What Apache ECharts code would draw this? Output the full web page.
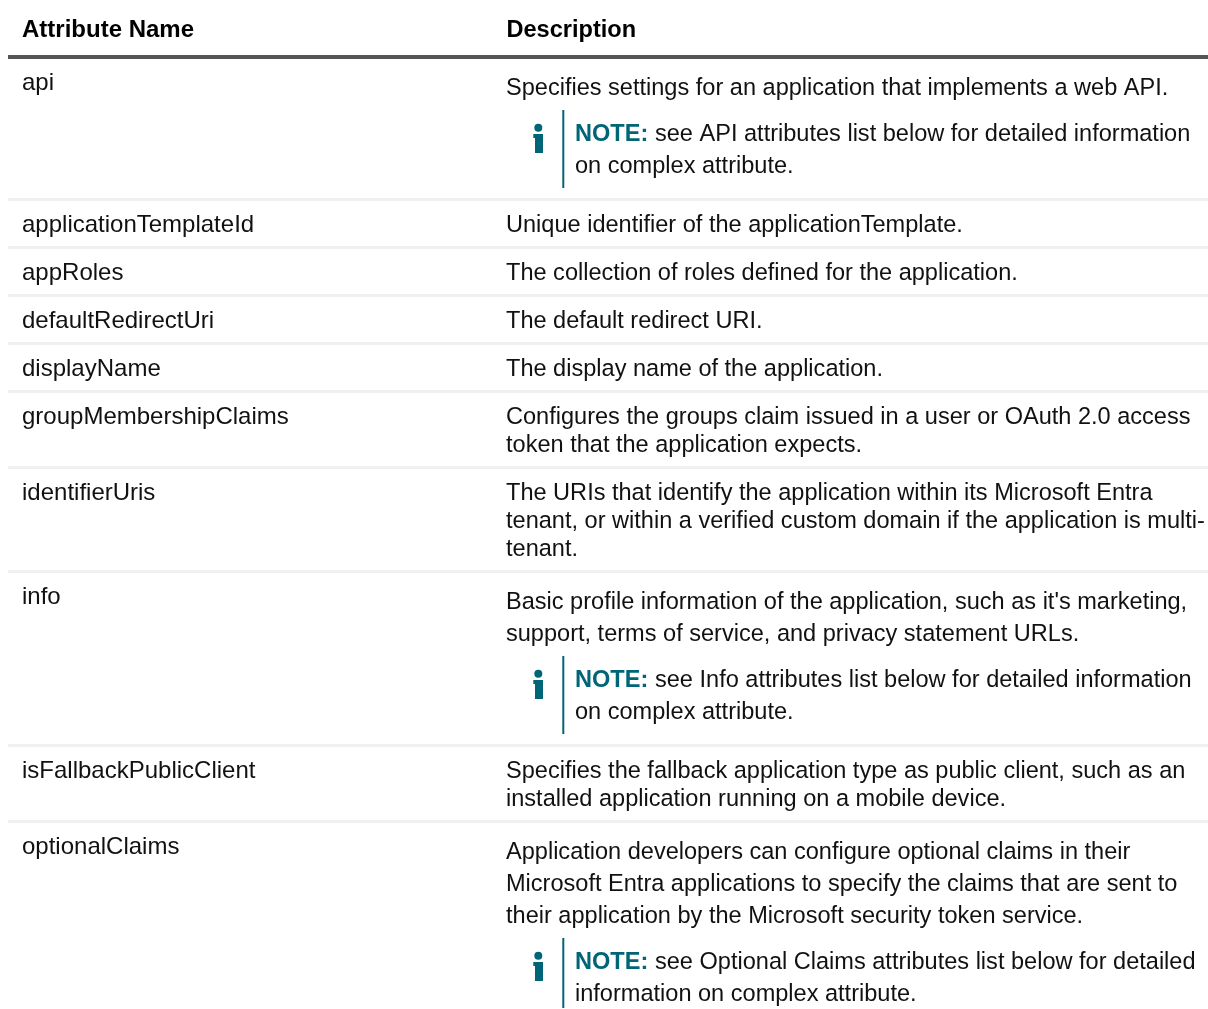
<!DOCTYPE html>
<html><head><meta charset="utf-8">
<style>html,body{margin:0;padding:0;background:#fff}#c{width:1208px;height:1009px}</style>
<script src="https://cdn.jsdelivr.net/npm/echarts@6/dist/echarts.min.js"></script>
</head><body><div id="c"></div>
<script>
const headers = ['Attribute Name', 'Description'];
const attributeNames = ['api','applicationTemplateId','appRoles','defaultRedirectUri','displayName','groupMembershipClaims','identifierUris','info','isFallbackPublicClient','optionalClaims'];
const descriptionLines = [
 'Specifies settings for an application that implements a web API.',
 'Unique identifier of the applicationTemplate.',
 'The collection of roles defined for the application.',
 'The default redirect URI.',
 'The display name of the application.',
 'Configures the groups claim issued in a user or OAuth 2.0 access',
 'token that the application expects.',
 'The URIs that identify the application within its Microsoft Entra',
 'tenant, or within a verified custom domain if the application is multi-',
 'tenant.',
 "Basic profile information of the application, such as it's marketing,",
 'support, terms of service, and privacy statement URLs.',
 'Specifies the fallback application type as public client, such as an',
 'installed application running on a mobile device.',
 'Application developers can configure optional claims in their',
 'Microsoft Entra applications to specify the claims that are sent to',
 'their application by the Microsoft security token service.'
];
const noteLabel = 'NOTE:';
const noteFirstLines = ['see API attributes list below for detailed information','see Info attributes list below for detailed information','see Optional Claims attributes list below for detailed'];
const noteSecondLines = ['on complex attribute.','on complex attribute.','information on complex attribute.'];

// layout
const nameY = [83,225,273,321,369,417,493,597,771,847];
const descY = [89,226,274,322,370,418,446,494,522,550,603,635,772,800,853,885,917];
const noteY = [[135,167],[681,713],[963,995]];
const barY = [[110,188],[656,734],[938,1008]];
const sepY = [199,247,295,343,391,467,571,745,821];
const FONT = '"Liberation Sans", Arial, sans-serif';
const FS = 23.55, FL = 24, INK = '#111', TEAL = '#006677';

const g = [];
const txt = (x,y,s,extra) => g.push({type:'text',x,y,silent:true,style:Object.assign({text:s,fill:INK,font:`${FS}px ${FONT}`,verticalAlign:'middle',align:'left'},extra||{})});
txt(22,30,headers[0],{font:`bold ${FL}px ${FONT}`,fill:'#000'});
txt(506.5,31,headers[1],{font:`bold ${FS}px ${FONT}`,fill:'#000'});
g.push({type:'rect',shape:{x:8,y:55,width:1200,height:4},style:{fill:'#555'}});
sepY.forEach(y=>g.push({type:'rect',shape:{x:8,y:y-1,width:1200,height:3},style:{fill:'#f0f0f0'}}));
attributeNames.forEach((s,i)=>txt(22,nameY[i],s,{font:`${FL}px ${FONT}`}));
descriptionLines.forEach((s,i)=>txt(506,descY[i],s));
noteFirstLines.forEach((s,i)=>{
  txt(575,noteY[i][0],noteLabel,{font:`bold ${FS}px ${FONT}`,fill:TEAL});
  txt(655,noteY[i][0],s);
  txt(575,noteY[i][1],noteSecondLines[i]);
  const [a,b]=barY[i];
  g.push({type:'rect',shape:{x:562.3,y:a,width:2,height:b-a},style:{fill:TEAL}});
  const t=a+14;
  g.push({type:'circle',shape:{cx:538.3,cy:t+3.7,r:4},style:{fill:TEAL}});
  g.push({type:'polygon',shape:{points:[[533.3,t+10],[543,t+10],[543,t+29],[535,t+29],[535,t+14],[533.3,t+14]]},style:{fill:TEAL}});
});
const chart = echarts.init(document.getElementById('c'),null,{renderer:'canvas'});
chart.setOption({animation:false,backgroundColor:'#fff',graphic:{elements:g}});
</script></body></html>
